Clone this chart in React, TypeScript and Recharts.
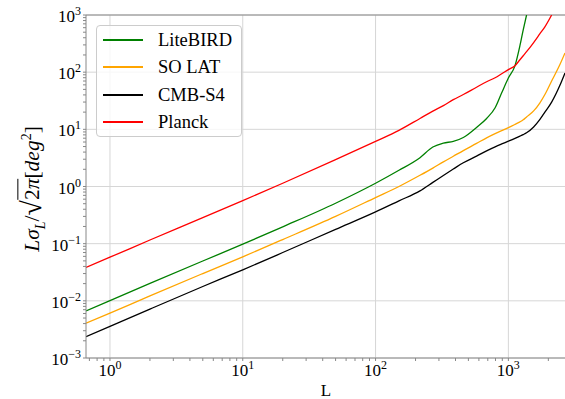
import React from "react";
import { LineChart, Line, XAxis, YAxis, ReferenceLine } from "recharts";

// multipole L
const L_VALUES = [
  0.66, 1, 2, 5, 10, 20, 50, 100, 150, 216, 270, 324, 385, 458, 576, 686, 795,
  891, 1000, 1122, 1222, 1294, 1371, 1550, 1729, 1884, 2118, 2445, 2670,
];

const LITEBIRD = [
  0.00664, 0.0101, 0.0202, 0.0498, 0.098, 0.197, 0.51, 1.14, 1.92, 3.19, 4.9,
  5.75, 6.15, 7.2, 10.8, 15.5, 23.8, 43.5, 79, 130, 290, 550, 1000, null, null,
  null, null, null, null,
];

const SO_LAT = [
  0.00405, 0.0061, 0.0122, 0.03, 0.0589, 0.118, 0.3, 0.64, 1.0, 1.57, 2.1,
  2.7, 3.38, 4.25, 5.67, 7.1, 8.4, 9.5, 10.7, 12.2, 13.5, 14.7, 16.5, 21,
  29.1, 40.6, 70, 136, 217,
];

const CMB_S4 = [
  0.00236, 0.00358, 0.00717, 0.0178, 0.0349, 0.07, 0.178, 0.359, 0.561, 0.84,
  1.18, 1.56, 2.02, 2.6, 3.4, 4.2, 4.95, 5.55, 6.2, 6.95, 7.6, 8.1, 8.7, 11.0,
  14.9, 20, 30, 59, 97,
];

const PLANCK = [
  0.0385, 0.058, 0.116, 0.285, 0.567, 1.14, 2.95, 6.15, 9.6, 15.5, 20.8, 26,
  33, 40.6, 54.5, 68, 80, 94, 111, 130, 165, 194, 228, 330, 470, 620, 1000,
  null, null,
];

const X_MAJOR = [1, 10, 100, 1000];
const Y_MAJOR = [0.001, 0.01, 0.1, 1, 10, 100, 1000];

const SERIES = [
  { key: "litebird", name: "LiteBIRD", color: "#008000", values: LITEBIRD },
  { key: "solat", name: "SO LAT", color: "#FFA500", values: SO_LAT },
  { key: "cmbs4", name: "CMB-S4", color: "#000000", values: CMB_S4 },
  { key: "planck", name: "Planck", color: "#FF0000", values: PLANCK },
];

const data = L_VALUES.map((L, i) => {
  const row: Record<string, number | null> = { L };
  SERIES.forEach((s) => (row[s.key] = s.values[i]));
  return row;
});

const X_MIN = 0.66;
const X_MAX = 2670;

// major + minor tick positions (2..9 per decade)
const withMinors = (majors: number[], lo: number, hi: number) => {
  const out: number[] = [];
  majors.forEach((m) => {
    for (let k = 1; k <= 9; k++) {
      const v = +(m * k).toPrecision(6);
      if (v >= lo && v <= hi) out.push(v);
    }
  });
  for (let k = 2; k <= 9; k++) {
    const v = +((majors[0] / 10) * k).toPrecision(6);
    if (v >= lo && v <= hi) out.push(v);
  }
  return out.sort((a, b) => a - b);
};

const X_TICKS = withMinors(X_MAJOR, X_MIN, X_MAX);
const Y_TICKS = withMinors(Y_MAJOR.slice(0, -1), 0.001, 1000).concat([1000]);

const FONT = "'Liberation Serif', 'DejaVu Serif', serif";

const isMajor = (v: number) =>
  Math.abs(Math.log10(v) - Math.round(Math.log10(v))) < 1e-6;

const expText = (v: number) => {
  const e = Math.round(Math.log10(v));
  return e < 0 ? "\u2212" + -e : String(e);
};

const XTick = (props: any) => {
  const { x, y, payload } = props;
  if (!isMajor(payload.value)) return <g />;
  return (
    <text x={x} y={y + 13} textAnchor="middle" fontFamily={FONT} fontSize={17} fill="#000">
      <tspan>10</tspan>
      <tspan dy={-7} fontSize={12}>
        {expText(payload.value)}
      </tspan>
    </text>
  );
};

const YTick = (props: any) => {
  const { x, y, payload } = props;
  if (!isMajor(payload.value)) return <g />;
  return (
    <text x={x} y={y + 7} textAnchor="end" fontFamily={FONT} fontSize={17} fill="#000">
      <tspan>10</tspan>
      <tspan dy={-7} fontSize={12}>
        {expText(payload.value)}
      </tspan>
    </text>
  );
};

const App = () => {
  return (
    <div
      style={{
        position: "absolute",
        left: 0,
        top: 0,
        width: 565,
        height: 399,
        overflow: "hidden",
        background: "#fff",
        fontFamily: FONT,
      }}
    >
      <LineChart
        width={570}
        height={399}
        data={data}
        margin={{ top: 15, right: 5, bottom: 0, left: 0 }}
      >
        {X_MAJOR.map((v) => (
          <ReferenceLine key={"gx" + v} x={v} stroke="#d6d6d6" strokeWidth={1} />
        ))}
        {Y_MAJOR.map((v) => (
          <ReferenceLine key={"gy" + v} y={v} stroke="#d6d6d6" strokeWidth={1} />
        ))}
        <ReferenceLine y={1000} stroke="#888" strokeWidth={1} />
        <XAxis
          dataKey="L"
          type="number"
          scale="log"
          domain={[X_MIN, X_MAX]}
          allowDataOverflow
          ticks={X_TICKS}
          interval={0}
          tick={<XTick />}
          tickSize={3}
          tickMargin={2}
          height={41}
          stroke="#888"
        />
        <YAxis
          type="number"
          scale="log"
          domain={[0.001, 1000]}
          allowDataOverflow
          ticks={Y_TICKS}
          interval={0}
          tick={<YTick />}
          tickSize={3}
          tickMargin={2}
          width={86}
          stroke="#888"
        />
        {SERIES.map((s) => (
          <Line
            key={s.key}
            dataKey={s.key}
            name={s.name}
            stroke={s.color}
            strokeWidth={1.3}
            type="monotone"
            dot={false}
            activeDot={false}
            isAnimationActive={false}
          />
        ))}
      </LineChart>

      {/* legend */}
      <div
        style={{
          position: "absolute",
          left: 96,
          top: 25,
          width: 146,
          height: 112,
          border: "1px solid #cccccc",
          borderRadius: 4,
          background: "rgba(255,255,255,0.8)",
          boxSizing: "border-box",
        }}
      >
        {SERIES.map((s, i) => (
          <div
            key={s.key}
            style={{
              position: "absolute",
              left: 0,
              top: Math.round(2 + i * 27.3),
              height: 24,
              display: "flex",
              alignItems: "center",
              whiteSpace: "nowrap",
            }}
          >
            <div
              style={{
                marginLeft: 6,
                width: 40,
                height: 2,
                background: s.color,
              }}
            />
            <span style={{ marginLeft: 15, fontSize: 18.5, color: "#000" }}>{s.name}</span>
          </div>
        ))}
      </div>

      {/* y label */}
      <div
        style={{
          position: "absolute",
          left: 32,
          top: 189,
          transform: "translate(-50%, -50%) rotate(-90deg)",
          whiteSpace: "nowrap",
          fontSize: 21.5,
          color: "#000",
          lineHeight: 1,
        }}
      >
        <i>Lσ</i>
        <sub style={{ fontSize: 14 }}>
          <i>L</i>
        </sub>
        /<span style={{ fontSize: 28, position: "relative", top: 2 }}>√</span>
        <span style={{ borderTop: "1.2px solid #000", paddingTop: 2 }}>
          2<i>π</i>
        </span>
        [<i>deg</i>
        <sup style={{ fontSize: 14 }}>2</sup>]
      </div>

      {/* x label */}
      <div
        style={{
          position: "absolute",
          left: 326,
          top: 382,
          transform: "translateX(-50%)",
          fontSize: 17,
          color: "#000",
          lineHeight: 1,
        }}
      >
        L
      </div>
    </div>
  );
};

export default App;
